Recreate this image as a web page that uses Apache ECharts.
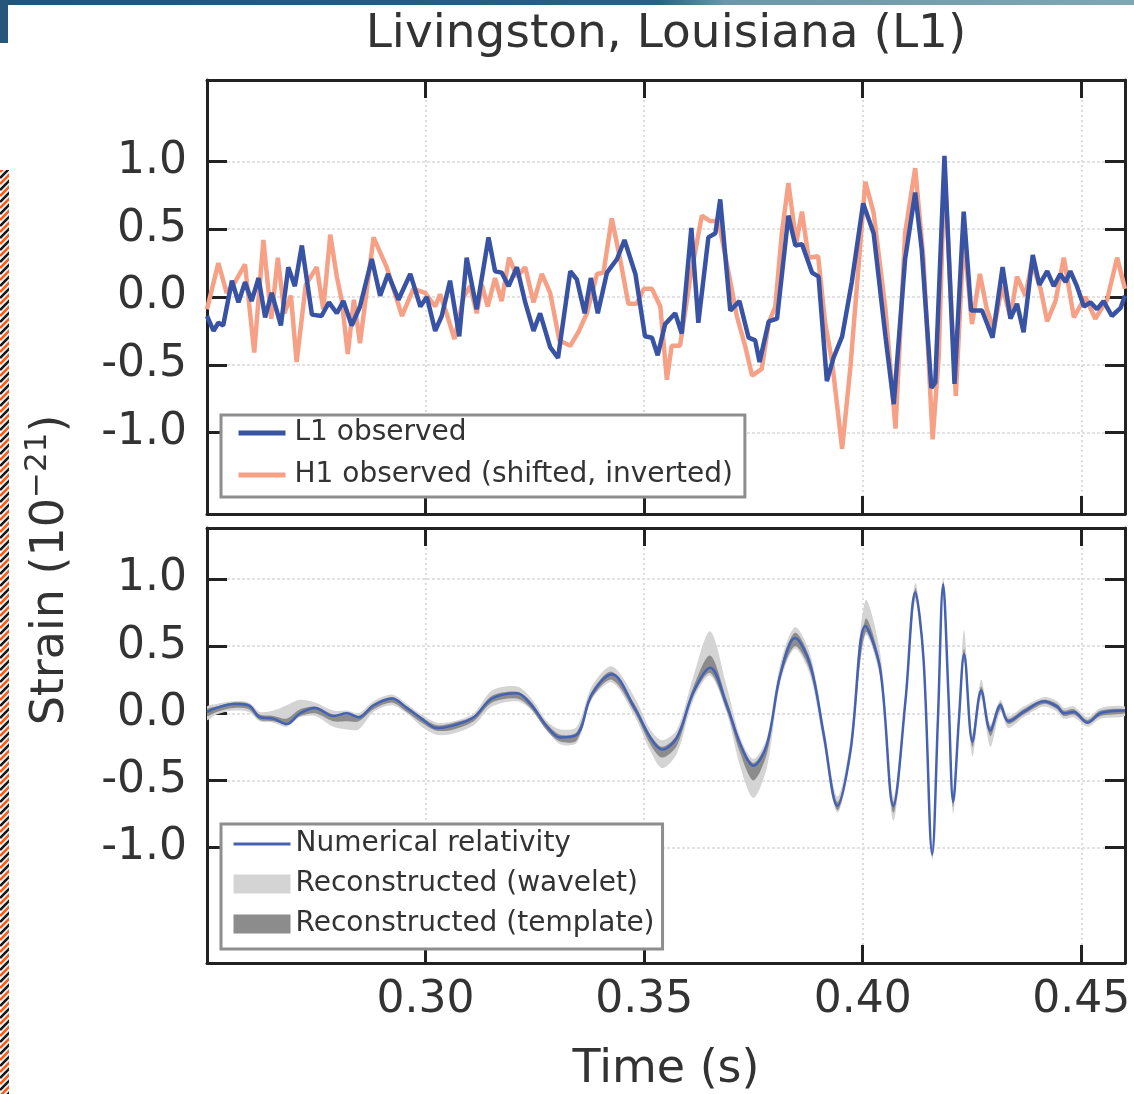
<!DOCTYPE html>
<html>
<head>
<meta charset="utf-8">
<title>Livingston, Louisiana (L1)</title>
<script src="https://cdn.jsdelivr.net/npm/echarts@6/dist/echarts.min.js"></script>
<style>
  html, body { margin: 0; padding: 0; background: #fff; }
  #chart { width: 1134px; height: 1094px; }
</style>
</head>
<body>
<div id="chart"></div>
<script>
// tick labels
var timeTicks = [0.30, 0.35, 0.40, 0.45];
var strainTicks = [-1.0, -0.5, 0.0, 0.5, 1.0];

// top panel: L1 observed
var l1Time = [0.2500, 0.2515, 0.2526, 0.2537, 0.2557, 0.2572, 0.2587, 0.2602, 0.2618, 0.2633,
  0.2648, 0.2669, 0.2686, 0.2701, 0.2717, 0.2740, 0.2762, 0.2779, 0.2797, 0.2812,
  0.2831, 0.2850, 0.2877, 0.2896, 0.2914, 0.2938, 0.2965, 0.2988, 0.3003, 0.3022,
  0.3037, 0.3056, 0.3077, 0.3094, 0.3117, 0.3144, 0.3159, 0.3174, 0.3190, 0.3209,
  0.3228, 0.3247, 0.3262, 0.3285, 0.3303, 0.3331, 0.3346, 0.3364, 0.3378, 0.3394,
  0.3415, 0.3438, 0.3455, 0.3480, 0.3502, 0.3518, 0.3531, 0.3548, 0.3571, 0.3586,
  0.3608, 0.3624, 0.3647, 0.3663, 0.3674, 0.3697, 0.3718, 0.3739, 0.3754, 0.3764,
  0.3785, 0.3804, 0.3830, 0.3846, 0.3861, 0.3884, 0.3899, 0.3918, 0.3933, 0.3953,
  0.3975, 0.4001, 0.4025, 0.4052, 0.4071, 0.4097, 0.4120, 0.4135, 0.4157, 0.4166,
  0.4187, 0.4210, 0.4231, 0.4248, 0.4273, 0.4297, 0.4320, 0.4338, 0.4353, 0.4368,
  0.4389, 0.4404, 0.4422, 0.4437, 0.4452, 0.4464, 0.4475, 0.4490, 0.4506, 0.4521,
  0.4536, 0.4551, 0.4570, 0.4590, 0.4600];
var l1Strain = [-0.14, -0.25, -0.19, -0.21, 0.12, -0.04, 0.11, -0.03, 0.14, -0.15,
  0.03, -0.21, 0.22, 0.08, 0.38, -0.13, -0.14, -0.04, -0.12, -0.03,
  -0.21, -0.07, 0.28, 0.01, 0.17, -0.02, 0.17, -0.07, 0.00, -0.25,
  -0.14, 0.12, -0.29, 0.29, -0.09, 0.44, 0.19, 0.18, 0.08, 0.22,
  -0.04, -0.25, -0.12, -0.37, -0.45, 0.19, 0.13, -0.12, 0.14, -0.12,
  0.18, 0.28, 0.42, 0.17, -0.29, -0.30, -0.43, -0.20, -0.12, -0.27,
  0.51, -0.19, 0.44, 0.47, 0.72, -0.10, -0.03, -0.30, -0.32, -0.48,
  -0.18, -0.16, 0.60, 0.38, 0.39, 0.18, 0.15, -0.62, -0.45, -0.29,
  0.11, 0.69, 0.47, -0.29, -0.79, 0.28, 0.77, 0.35, -0.67, -0.63,
  1.04, -0.64, 0.63, -0.10, -0.10, -0.30, 0.22, -0.16, -0.05, -0.26,
  0.31, 0.09, 0.19, 0.08, 0.17, 0.11, 0.19, 0.08, -0.07, -0.04,
  -0.09, -0.03, -0.14, -0.08, 0.01];

// top panel: H1 observed (shifted, inverted)
var h1Time = [0.2500, 0.2526, 0.2545, 0.2564, 0.2587, 0.2608, 0.2629, 0.2647, 0.2662, 0.2677,
  0.2692, 0.2705, 0.2726, 0.2751, 0.2766, 0.2782, 0.2797, 0.2808, 0.2822, 0.2836,
  0.2850, 0.2881, 0.2911, 0.2946, 0.2972, 0.2999, 0.3022, 0.3033, 0.3048, 0.3066,
  0.3087, 0.3102, 0.3117, 0.3129, 0.3142, 0.3159, 0.3174, 0.3191, 0.3209, 0.3228,
  0.3247, 0.3266, 0.3285, 0.3306, 0.3331, 0.3351, 0.3369, 0.3392, 0.3407, 0.3426,
  0.3445, 0.3464, 0.3483, 0.3499, 0.3518, 0.3537, 0.3552, 0.3563, 0.3582, 0.3605,
  0.3632, 0.3651, 0.3670, 0.3689, 0.3712, 0.3731, 0.3747, 0.3769, 0.3785, 0.3800,
  0.3815, 0.3830, 0.3848, 0.3861, 0.3876, 0.3898, 0.3914, 0.3930, 0.3953, 0.3972,
  0.3991, 0.4006, 0.4025, 0.4052, 0.4075, 0.4097, 0.4120, 0.4139, 0.4160, 0.4174,
  0.4187, 0.4213, 0.4231, 0.4250, 0.4268, 0.4284, 0.4300, 0.4319, 0.4338, 0.4353,
  0.4372, 0.4387, 0.4407, 0.4422, 0.4441, 0.4460, 0.4483, 0.4509, 0.4532, 0.4559,
  0.4582, 0.4600];
var h1Strain = [-0.09, 0.25, 0.03, 0.11, 0.24, -0.41, 0.42, -0.16, 0.29, -0.12,
  0.01, -0.48, 0.09, 0.22, -0.09, 0.46, 0.15, -0.02, -0.42, -0.02,
  -0.34, 0.44, 0.22, -0.14, 0.06, 0.03, -0.07, 0.02, -0.12, -0.31,
  0.00, 0.08, -0.12, 0.09, -0.07, 0.14, -0.03, 0.29, 0.15, 0.22,
  -0.04, 0.17, 0.03, -0.32, -0.36, -0.25, -0.12, 0.17, 0.18, 0.58,
  0.28, -0.05, -0.05, 0.06, 0.06, -0.07, -0.61, -0.36, -0.36, 0.13,
  0.60, 0.56, 0.56, 0.25, -0.14, -0.36, -0.58, -0.53, -0.19, -0.07,
  0.47, 0.84, 0.40, 0.63, 0.29, 0.30, -0.19, -0.48, -1.12, -0.51,
  0.25, 0.85, 0.62, -0.09, -0.97, 0.47, 0.95, 0.28, -1.05, -0.43,
  0.94, -0.73, 0.45, -0.20, 0.17, -0.09, -0.24, 0.08, -0.15, 0.15,
  0.01, 0.25, 0.06, -0.18, -0.03, 0.29, -0.15, 0.00, -0.16, -0.02,
  0.29, 0.06];

// bottom panel: numerical relativity and reconstruction bands
var nrTime = [0.2500, 0.2522, 0.2560, 0.2595, 0.2621, 0.2652, 0.2682, 0.2713, 0.2747, 0.2789,
  0.2820, 0.2847, 0.2881, 0.2923, 0.2957, 0.2991, 0.3026, 0.3064, 0.3110, 0.3152,
  0.3209, 0.3240, 0.3278, 0.3308, 0.3346, 0.3380, 0.3426, 0.3478, 0.3514, 0.3541,
  0.3575, 0.3613, 0.3651, 0.3689, 0.3720, 0.3750, 0.3781, 0.3811, 0.3845, 0.3880,
  0.3911, 0.3942, 0.3972, 0.4006, 0.4040, 0.4070, 0.4098, 0.4120, 0.4139, 0.4159,
  0.4172, 0.4184, 0.4196, 0.4207, 0.4220, 0.4232, 0.4251, 0.4271, 0.4292, 0.4315,
  0.4333, 0.4368, 0.4414, 0.4445, 0.4460, 0.4483, 0.4514, 0.4544, 0.4600];
var nrStrain = [0.01, 0.04, 0.07, 0.06, -0.03, -0.04, -0.08, 0.00, 0.04, -0.02,
  0.00, -0.03, 0.06, 0.11, 0.04, -0.04, -0.11, -0.09, -0.03, 0.11,
  0.15, 0.07, -0.10, -0.18, -0.16, 0.14, 0.29, 0.04, -0.18, -0.27,
  -0.18, 0.16, 0.34, 0.06, -0.23, -0.39, -0.23, 0.28, 0.56, 0.36,
  -0.16, -0.69, -0.28, 0.65, 0.33, -0.69, 0.10, 0.90, 0.41, -1.05,
  -0.05, 0.96, 0.15, -0.66, -0.05, 0.44, -0.21, 0.17, -0.13, 0.06,
  -0.06, 0.01, 0.09, 0.05, 0.00, 0.01, -0.07, 0.00, 0.02];
var waveletHigh = [0.05, 0.07, 0.09, 0.08, 0.01, 0.02, 0.06, 0.10, 0.08, 0.02,
  0.02, 0.00, 0.09, 0.14, 0.07, -0.01, -0.07, -0.06, 0.00, 0.17,
  0.20, 0.12, -0.06, -0.12, -0.10, 0.20, 0.35, 0.12, -0.12, -0.20,
  -0.12, 0.28, 0.61, 0.20, -0.18, -0.34, -0.18, 0.36, 0.64, 0.44,
  -0.10, -0.62, -0.20, 0.84, 0.45, -0.62, 0.16, 0.97, 0.48, -0.98,
  0.02, 1.01, 0.22, -0.58, 0.02, 0.62, -0.15, 0.25, -0.08, 0.10,
  -0.02, 0.05, 0.12, 0.09, 0.04, 0.05, -0.03, 0.04, 0.05];
var waveletLow = [-0.05, -0.01, 0.02, 0.01, -0.06, -0.07, -0.10, -0.03, -0.02, -0.10,
  -0.12, -0.12, 0.01, 0.06, 0.00, -0.10, -0.16, -0.15, -0.09, 0.05,
  0.09, 0.03, -0.13, -0.23, -0.22, 0.10, 0.23, -0.02, -0.28, -0.41,
  -0.30, 0.10, 0.28, 0.00, -0.40, -0.63, -0.40, 0.22, 0.48, 0.28,
  -0.24, -0.74, -0.34, 0.58, 0.26, -0.80, 0.04, 0.83, 0.34, -1.09,
  -0.12, 0.88, 0.08, -0.75, -0.12, 0.38, -0.32, 0.11, -0.25, 0.01,
  -0.11, -0.03, 0.05, 0.01, -0.04, -0.03, -0.10, -0.04, -0.02];
var templateHigh = [0.03, 0.05, 0.08, 0.07, -0.01, -0.02, -0.04, 0.03, 0.05, -0.01,
  -0.01, -0.02, 0.07, 0.12, 0.05, -0.03, -0.09, -0.07, -0.02, 0.13,
  0.16, 0.09, -0.08, -0.16, -0.14, 0.16, 0.31, 0.07, -0.16, -0.25,
  -0.16, 0.20, 0.43, 0.10, -0.21, -0.37, -0.21, 0.32, 0.60, 0.40,
  -0.13, -0.66, -0.25, 0.70, 0.37, -0.66, 0.12, 0.93, 0.44, -1.02,
  -0.02, 0.98, 0.18, -0.63, -0.02, 0.48, -0.18, 0.20, -0.10, 0.08,
  -0.04, 0.03, 0.10, 0.07, 0.02, 0.03, -0.05, 0.02, 0.03];
var templateLow = [-0.02, 0.01, 0.04, 0.03, -0.05, -0.06, -0.08, -0.02, 0.00, -0.06,
  -0.06, -0.06, 0.03, 0.08, 0.01, -0.07, -0.13, -0.12, -0.06, 0.08,
  0.11, 0.04, -0.13, -0.21, -0.20, 0.11, 0.25, 0.01, -0.23, -0.33,
  -0.24, 0.13, 0.30, 0.02, -0.30, -0.50, -0.30, 0.25, 0.50, 0.31,
  -0.20, -0.72, -0.31, 0.60, 0.29, -0.74, 0.07, 0.86, 0.38, -1.07,
  -0.08, 0.92, 0.12, -0.70, -0.08, 0.40, -0.25, 0.14, -0.17, 0.03,
  -0.08, -0.01, 0.07, 0.03, -0.02, -0.01, -0.08, -0.02, 0.00];

var FONT = 'DejaVu Sans';
var INK = '#222';

function pairs(xs, ys) {
  var out = [];
  for (var i = 0; i < xs.length; i++) out.push([xs[i], ys[i]]);
  return out;
}

function bandRenderer(low, high) {
  return function (params, api) {
    var pts = [];
    for (var i = 0; i < nrTime.length; i++) pts.push(api.coord([nrTime[i], high[i]]));
    for (var j = nrTime.length - 1; j >= 0; j--) pts.push(api.coord([nrTime[j], low[j]]));
    return {
      type: 'polygon',
      shape: { points: pts, smooth: 0.3 },
      style: api.style({ stroke: null })
    };
  };
}

function timeAxis(gridIndex, position, opts) {
  opts = opts || {};
  return {
    type: 'value', gridIndex: gridIndex, position: position,
    min: 0.25, max: 0.46,
    name: opts.name || '', nameLocation: 'middle', nameGap: opts.nameGap || 0,
    nameTextStyle: { fontSize: opts.nameSize || 46, color: '#333', fontFamily: FONT },
    axisLine: { show: true, onZero: false, lineStyle: { color: INK, width: 3 } },
    axisTick: { show: true, inside: true, length: 18, customValues: timeTicks,
      lineStyle: { color: INK, width: 3 } },
    axisLabel: { show: !!opts.labels, customValues: timeTicks, margin: 16,
      formatter: function (v) { return v.toFixed(2); },
      fontSize: 44, color: '#333', fontFamily: FONT },
    splitLine: { show: position === 'bottom',
      lineStyle: { color: '#dcdcdc', width: 2, type: [2, 3] } }
  };
}

function strainAxis(gridIndex, position, min, max) {
  return {
    type: 'value', gridIndex: gridIndex, position: position,
    min: min, max: max,
    axisLine: { show: true, onZero: false, lineStyle: { color: INK, width: 3 } },
    axisTick: { show: true, inside: true, length: 20, customValues: strainTicks,
      lineStyle: { color: INK, width: 3 } },
    axisLabel: { show: position === 'left', customValues: strainTicks, margin: 20,
      formatter: function (v) { return v.toFixed(1); },
      fontSize: 44, color: '#333', fontFamily: FONT },
    splitLine: { show: position === 'left',
      lineStyle: { color: '#e2e2e2', width: 2, type: [3, 2] } }
  };
}

// stripes for the slide edge on the left
var stripe = document.createElement('canvas');
stripe.width = 10; stripe.height = 12;
var g = stripe.getContext('2d');
g.fillStyle = '#fff'; g.fillRect(0, 0, 10, 12);
g.lineWidth = 2.6;
for (var k = -1; k < 3; k++) {
  g.strokeStyle = '#1a1a1a';
  g.beginPath(); g.moveTo(0, k * 12 + 10); g.lineTo(10, k * 12); g.stroke();
  g.strokeStyle = '#ff5a1a';
  g.beginPath(); g.moveTo(0, k * 12 + 16); g.lineTo(10, k * 12 + 6); g.stroke();
}

var noMarker = { opacity: 0 };

var chart = echarts.init(document.getElementById('chart'));
chart.setOption({
  backgroundColor: '#fff',
  animation: false,
  grid: [
    { left: 207, top: 80, width: 918, height: 434 },
    { left: 207, top: 528, width: 918, height: 438 }
  ],
  xAxis: [
    timeAxis(0, 'bottom'),
    timeAxis(0, 'top', { name: 'Livingston, Louisiana (L1)', nameGap: 22, nameSize: 47 }),
    timeAxis(1, 'bottom', { labels: true, name: 'Time (s)', nameGap: 84 }),
    timeAxis(1, 'top')
  ],
  yAxis: [
    strainAxis(0, 'left', -1.6, 1.6),
    strainAxis(0, 'right', -1.6, 1.6),
    strainAxis(1, 'left', -1.86, 1.38),
    strainAxis(1, 'right', -1.86, 1.38)
  ],
  legend: [
    {
      data: [
        { name: 'L1 observed', itemStyle: noMarker, lineStyle: { width: 5 } },
        { name: 'H1 observed (shifted, inverted)', itemStyle: noMarker, lineStyle: { width: 5 } }
      ],
      orient: 'vertical', left: 221, top: 415,
      itemWidth: 47, itemHeight: 14, itemGap: 14,
      padding: [4, 12, 8, 15],
      backgroundColor: '#fff', borderColor: '#8e8e8e', borderWidth: 3,
      selectedMode: false,
      textStyle: { fontSize: 28, color: '#333', fontFamily: FONT, padding: [0, 0, 0, 4] }
    },
    {
      data: [
        { name: 'Numerical relativity', itemStyle: noMarker, lineStyle: { width: 3 } },
        { name: 'Reconstructed (wavelet)', icon: 'rect' },
        { name: 'Reconstructed (template)', icon: 'rect' }
      ],
      orient: 'vertical', left: 221, top: 824,
      itemWidth: 57, itemHeight: 19, itemGap: 12,
      padding: [6, 8, 11, 11],
      backgroundColor: '#fff', borderColor: '#8e8e8e', borderWidth: 3,
      selectedMode: false,
      textStyle: { fontSize: 28, color: '#333', fontFamily: FONT }
    }
  ],
  graphic: [
    { type: 'rect', shape: { x: 0, y: 0, width: 1134, height: 5 },
      style: { fill: new echarts.graphic.LinearGradient(0, 0, 1, 0, [
        { offset: 0, color: '#1f5577' }, { offset: 0.58, color: '#2a6080' },
        { offset: 0.64, color: '#6c97a8' }, { offset: 1, color: '#7ea6b5' }]) } },
    { type: 'rect', shape: { x: 0, y: 0, width: 8, height: 43 }, style: { fill: '#245779' } },
    { type: 'rect', shape: { x: 0, y: 170, width: 9, height: 924 },
      style: { fill: { image: stripe, repeat: 'repeat' } } },
    { type: 'text', x: 48, y: 570, rotation: Math.PI / 2,
      style: {
        text: '{b|Strain (10}{s|\u221221}{b|)}',
        align: 'center', verticalAlign: 'middle',
        rich: {
          b: { fontSize: 46, fontFamily: FONT, fill: '#333', lineHeight: 52, verticalAlign: 'bottom' },
          s: { fontSize: 31, fontFamily: FONT, fill: '#333', lineHeight: 31, verticalAlign: 'top' }
        }
      } }
  ],
  series: [
    {
      name: 'H1 observed (shifted, inverted)', type: 'line',
      xAxisIndex: 0, yAxisIndex: 0,
      data: pairs(h1Time, h1Strain),
      symbol: 'none', showSymbol: false,
      lineStyle: { color: '#f6a186', width: 4.5 },
      itemStyle: { color: '#f6a186' }
    },
    {
      name: 'L1 observed', type: 'line',
      xAxisIndex: 0, yAxisIndex: 0,
      data: pairs(l1Time, l1Strain),
      symbol: 'none', showSymbol: false,
      lineStyle: { color: '#3953a4', width: 4.5 },
      itemStyle: { color: '#3953a4' }
    },
    {
      name: 'Reconstructed (wavelet)', type: 'custom',
      xAxisIndex: 2, yAxisIndex: 2,
      data: [[nrTime[0], nrStrain[0]]],
      renderItem: bandRenderer(waveletLow, waveletHigh),
      itemStyle: { color: '#d4d4d4' },
      clip: true
    },
    {
      name: 'Reconstructed (template)', type: 'custom',
      xAxisIndex: 2, yAxisIndex: 2,
      data: [[nrTime[0], nrStrain[0]]],
      renderItem: bandRenderer(templateLow, templateHigh),
      itemStyle: { color: '#8c8c8c' },
      clip: true
    },
    {
      name: 'Numerical relativity', type: 'line',
      xAxisIndex: 2, yAxisIndex: 2,
      data: pairs(nrTime, nrStrain),
      smooth: 0.35,
      symbol: 'none', showSymbol: false,
      lineStyle: { color: '#4561b2', width: 2.5 },
      itemStyle: { color: '#4561b2' }
    }
  ]
});
</script>
</body>
</html>
